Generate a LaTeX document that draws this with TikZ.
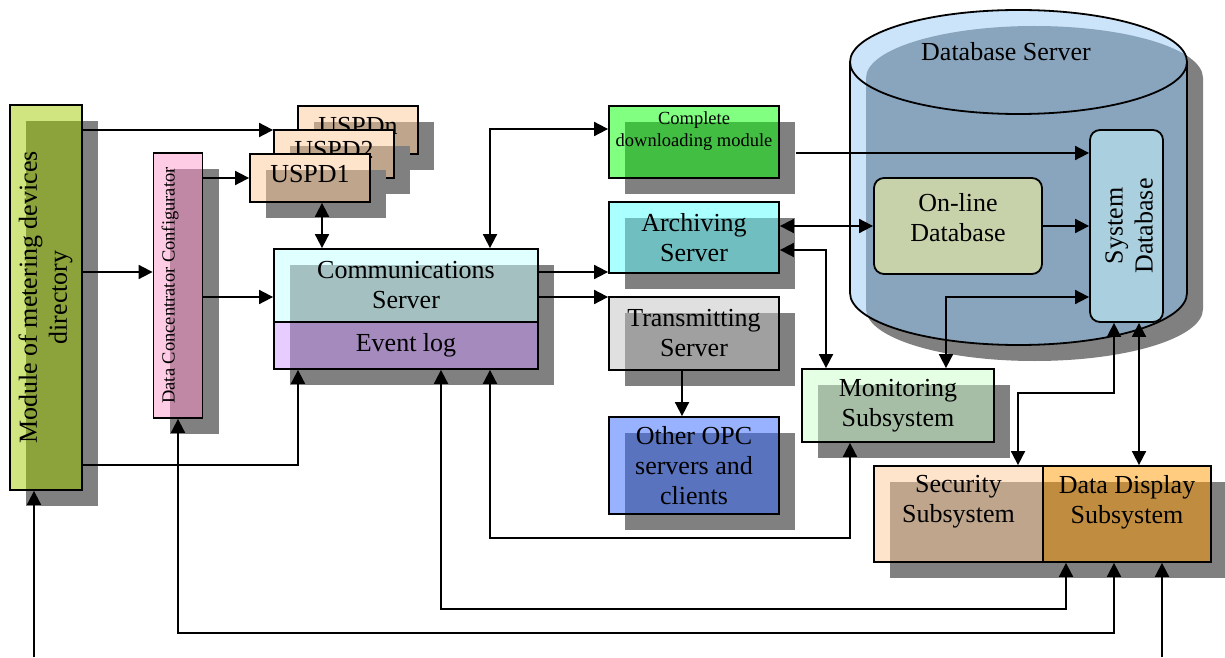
\documentclass[tikz,border=0pt]{standalone}
\usepackage{fontspec}
\setmainfont{Liberation Serif}
\usetikzlibrary{arrows.meta}

\definecolor{dropgray}{RGB}{128,128,128}
\definecolor{modlt}{RGB}{208,228,128}  \definecolor{moddk}{RGB}{140,163,60}
\definecolor{dcclt}{RGB}{255,204,230}  \definecolor{dccdk}{RGB}{192,136,165}
\definecolor{uspdlt}{RGB}{255,228,204} \definecolor{uspddk}{RGB}{190,165,140}
\definecolor{comlt}{RGB}{224,255,255}  \definecolor{comdk}{RGB}{165,192,192}
\definecolor{evtlt}{RGB}{230,204,255}  \definecolor{evtdk}{RGB}{165,138,190}
\definecolor{cdllt}{RGB}{128,255,128}  \definecolor{cdldk}{RGB}{66,190,66}
\definecolor{arclt}{RGB}{170,255,255}  \definecolor{arcdk}{RGB}{112,190,192}
\definecolor{trnlt}{RGB}{224,224,224}  \definecolor{trndk}{RGB}{160,160,160}
\definecolor{opclt}{RGB}{153,178,255}  \definecolor{opcdk}{RGB}{90,115,190}
\definecolor{monlt}{RGB}{228,255,228}  \definecolor{mondk}{RGB}{165,190,165}
\definecolor{seclt}{RGB}{255,228,204}  \definecolor{secdk}{RGB}{190,165,140}
\definecolor{displt}{RGB}{255,204,128} \definecolor{dispdk}{RGB}{192,140,64}
\definecolor{dblt}{RGB}{204,228,250}   \definecolor{dbdk}{RGB}{137,165,190}
\definecolor{sysfill}{RGB}{170,208,224}
\definecolor{onlfill}{RGB}{200,210,170}

\newcommand\bigtxt{\fontsize{26}{30}\selectfont}
\newcommand\smalltxt{\fontsize{18.5}{22}\selectfont}

% outline of the database server drum
\def\dbshape{(850,595) -- (850,364) arc[start angle=180,end angle=360,x radius=168.5,y radius=52] -- (1187,595) arc[start angle=0,end angle=180,x radius=168.5,y radius=52] -- cycle}

\tikzset{
  blk/.style n args={3}{draw, line width=1.8pt, fill=#1, inner sep=0pt,
    align=center, font=\bigtxt,
    preaction={fill=dropgray, draw=none, transform canvas={shift={(16,-16)}}},
    path picture={\fill[#2] ([shift={(#3)}]path picture bounding box.south west)
      rectangle ([shift={(#3)}]path picture bounding box.north east);}},
  inbox/.style={draw, line width=1.8pt, fill=#1, rounded corners=10pt,
    inner sep=0pt, align=center, font=\bigtxt},
  lift/.style={text depth=#1},
  >={Triangle[length=14pt,width=14pt]},
}

\begin{document}
\begin{tikzpicture}[x=1pt,y=1pt,line width=1.8pt]
		\useasboundingbox (0,0) rectangle (1225,657);
		
		%%%%% left column %%%%%
		\node[blk={modlt}{moddk}{16,-16}, minimum width=72, minimum height=385] (module) at (46,359.5)
			{\rotatebox{90}{\begin{tabular}{@{}c@{}}Module of metering devices\\directory\end{tabular}}};
		\node[blk={dcclt}{dccdk}{16,-16}, minimum width=49, minimum height=265, font=\smalltxt] (dcc) at (178,371.5)
			{\rotatebox{90}{Data Concentrator Configurator}\hspace{16pt}};
		
		%%%%% metering devices %%%%%
		\node[blk={uspdlt}{uspddk}{16,-16}, minimum width=120, minimum height=48, lift=8pt] (uspdn) at (358,527) {USPDn};
		\node[blk={uspdlt}{uspddk}{16,-16}, minimum width=120, minimum height=48, lift=8pt] (uspd2) at (334,503) {USPD2};
		\node[blk={uspdlt}{uspddk}{16,-16}, minimum width=120, minimum height=48, lift=8pt] (uspd1) at (310,479) {USPD1};
		
		%%%%% servers %%%%%
		\node[blk={comlt}{comdk}{16,-16}, minimum width=264, minimum height=73] (comm) at (406,371.5) {Communications\\Server};
		\node[blk={evtlt}{evtdk}{16,0}, minimum width=264, minimum height=47] (evlog) at (406,311.5) {Event log};
		
		\node[blk={cdllt}{cdldk}{16,-16}, minimum width=170, minimum height=72, font=\smalltxt, lift=26pt] (complete) at (694,515)
			{Complete\\downloading module};
		\node[blk={arclt}{arcdk}{16,-16}, minimum width=170, minimum height=71] (archiving) at (694,419.5) {Archiving\\Server};
		\node[blk={trnlt}{trndk}{16,-16}, minimum width=170, minimum height=73] (transmitting) at (694,323.5) {Transmitting\\Server};
		\node[blk={opclt}{opcdk}{16,-16}, minimum width=170, minimum height=97] (opc) at (694,191.5) {Other OPC\\servers and\\clients};
		
		%%%%% database server drum %%%%%
		\fill[dropgray, shift={(16,-16)}] \dbshape;
		\fill[dblt] \dbshape;
		\begin{scope}
			\clip \dbshape;
			\fill[dbdk, shift={(16,-16)}] \dbshape;
		\end{scope}
		\draw \dbshape;
		\draw (850,595) arc[start angle=180,end angle=360,x radius=168.5,y radius=52];
		\node[font=\bigtxt] (dbsrv) at (1006,605) {Database Server};
		
		\node[inbox=onlfill, minimum width=168, minimum height=96, lift=18pt] (online) at (958,431) {On-line\\Database};
		\node[inbox=sysfill, minimum width=73, minimum height=192] (sysdb) at (1126.5,431)
			{\hspace{10pt}\rotatebox{90}{\begin{tabular}{@{}c@{}}System\\Database\end{tabular}}};
		
		%%%%% subsystems %%%%%
		\node[blk={monlt}{mondk}{16,-16}, minimum width=192, minimum height=73] (monitor) at (898,251.5) {Monitoring\\Subsystem};
		\node[blk={seclt}{secdk}{16,-16}, minimum width=169, minimum height=96, lift=30pt] (security) at (958.5,143) {Security\\Subsystem};
		\node[blk={displt}{dispdk}{0,-16}, minimum width=168, minimum height=96, lift=30pt] (display) at (1127,143) {Data Display\\Subsystem};
		
		%%%%% connectors %%%%%
		\coordinate (modin) at (34,0);
		\coordinate (dispin) at (1162,0);
		\coordinate (evmon) at (850,119);
		\coordinate (evdisp) at (1066,48);
		\coordinate (dccdisp) at (1114,24);
		\coordinate (secbend) at (1114,264);
		
		\draw[->] (module.east |- uspdn) -- (uspd2.west |- uspdn);
		\draw[->] (module.east |- 0,385) -- (dcc.west |- 0,385);
		\draw[->] (dcc.east |- uspd1) -- (uspd1.west);
		\draw[->] (dcc.east |- 0,360) -- (comm.west |- 0,360);
		\draw[->] (module.east |- 0,192) -| (evlog.south -| 298,0);
		\draw[<->] (uspd1.south -| 322,0) -- (comm.north -| 322,0);
		\draw[<->] (comm.north -| 490,0) |- (complete.west |- 0,528);
		\draw[->] (comm.east |- 0,385) -- (archiving.west |- 0,385);
		\draw[->] (comm.east |- 0,360) -- (transmitting.west |- 0,360);
		\draw[->] (transmitting.south -| 682,0) -- (opc.north -| 682,0);
		\draw[->] (complete.east |- 0,504) ++(16,0) -- (sysdb.west |- 0,504);
		\draw[<->] (archiving.east |- online) -- (online.west);
		\draw[->] (online.east) -- (sysdb.west |- online);
		\draw[<->] (archiving.east |- 0,407) -| (monitor.north -| 826,0);
		\draw[<->] (monitor.north -| 946,0) |- (sysdb.west |- 0,360);
		\draw[<->] (security.north -| 1018,0) |- (secbend) -- (sysdb.south -| secbend);
		\draw[<->] (sysdb.south -| 1139,0) -- (display.north -| 1139,0);
		\draw[<->] (evlog.south -| 490,0) |- (evmon) -- (monitor.south -| evmon);
		\draw[<->] (evlog.south -| 441,0) |- (evdisp) -- (display.south -| evdisp);
		\draw[<->] (dcc.south) |- (dccdisp) -- (display.south -| dccdisp);
		\draw[->] (modin) -- (module.south -| modin);
		\draw[->] (dispin) -- (display.south -| dispin);
		
	\end{tikzpicture}
\end{document}
